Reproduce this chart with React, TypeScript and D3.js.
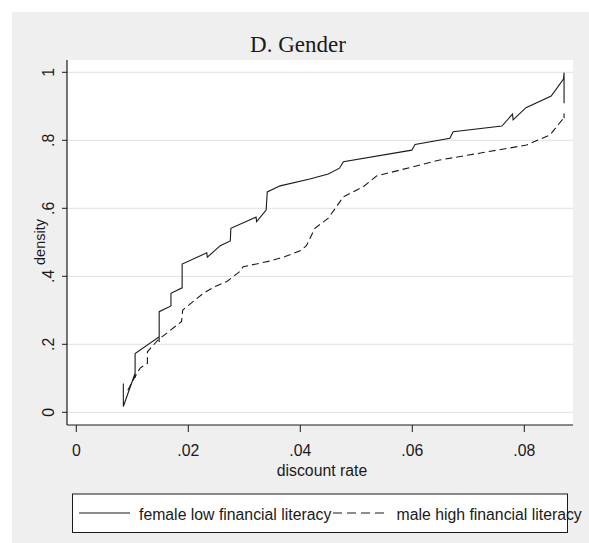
import React from "react";
import * as d3 from "d3";

const femaleX = [0.0084, 0.0084, 0.0105, 0.0105, 0.0105, 0.0148, 0.0148, 0.0148, 0.0169, 0.0169, 0.0189, 0.0189, 0.0233, 0.0234, 0.0257, 0.0275, 0.0276, 0.0321, 0.0322, 0.0339, 0.0341, 0.0364, 0.0417, 0.045, 0.047, 0.0477, 0.0599, 0.0605, 0.0667, 0.0673, 0.076, 0.0779, 0.078, 0.0803, 0.0848, 0.087, 0.0871, 0.0871];
const femaleY = [0.085, 0.017, 0.115, 0.101, 0.173, 0.222, 0.207, 0.296, 0.313, 0.35, 0.366, 0.436, 0.469, 0.456, 0.49, 0.504, 0.541, 0.574, 0.561, 0.595, 0.648, 0.666, 0.686, 0.701, 0.718, 0.737, 0.771, 0.788, 0.806, 0.825, 0.842, 0.877, 0.86, 0.896, 0.93, 0.98, 0.999, 0.909];

const maleX = [0.0092, 0.0105, 0.0114, 0.0127, 0.0127, 0.0146, 0.0188, 0.019, 0.0227, 0.0248, 0.0269, 0.0292, 0.0298, 0.0346, 0.0373, 0.04, 0.0411, 0.0426, 0.045, 0.0477, 0.0513, 0.0536, 0.0649, 0.0804, 0.0846, 0.087, 0.0871, 0.0871];
const maleY = [0.065, 0.105, 0.13, 0.144, 0.178, 0.213, 0.267, 0.301, 0.35, 0.37, 0.385, 0.414, 0.428, 0.445, 0.458, 0.475, 0.49, 0.541, 0.571, 0.634, 0.664, 0.695, 0.742, 0.786, 0.816, 0.865, 0.879, 0.852];

const xTicks = [0, 0.02, 0.04, 0.06, 0.08];
const xTickLabels = ["0", ".02", ".04", ".06", ".08"];
const yTicks = [0, 0.2, 0.4, 0.6, 0.8, 1];
const yTickLabels = ["0", ".2", ".4", ".6", ".8", "1"];
const seriesNames = ["female low financial literacy", "male high financial literacy"];

const W = 589, H = 543;
const plot = { left: 67, right: 573, top: 60, bottom: 425 };
const sans = "'Liberation Sans', Arial, sans-serif";
const fs = 15.8;

export default function App() {
  const x = d3.scaleLinear().domain([0, 0.08]).range([76.3, 524.3]);
  const y = d3.scaleLinear().domain([0, 1]).range([412.3, 72.3]);
  const line = d3.line<[number, number]>().x(d => x(d[0])).y(d => y(d[1]));
  const fem: [number, number][] = femaleX.map((v, i) => [v, femaleY[i]]);
  const mal: [number, number][] = maleX.map((v, i) => [v, maleY[i]]);
  const ink = "#1a1a1a";
  return (
    <svg width={W} height={H} style={{ position: "absolute", left: 0, top: 0, background: "#fff" }}>
      <rect x={12} y={12} width={W - 12} height={H - 12} fill="#efefef" />
      <rect x={plot.left} y={plot.top} width={plot.right - plot.left} height={plot.bottom - plot.top} fill="#fff" />
      {yTicks.map((t, i) => (
        <g key={"y" + i}>
          <line x1={plot.left} x2={plot.right} y1={y(t)} y2={y(t)} stroke="#e6e6e6" strokeWidth={1.2} />
          <line x1={62} x2={plot.left} y1={y(t)} y2={y(t)} stroke={ink} strokeWidth={1} />
          <text transform={`translate(53.5,${y(t)}) rotate(-90)`} textAnchor="middle" fontFamily={sans} fontSize={fs} fill={ink}>{yTickLabels[i]}</text>
        </g>
      ))}
      {xTicks.map((t, i) => (
        <g key={"x" + i}>
          <line x1={x(t)} x2={x(t)} y1={plot.bottom} y2={plot.bottom + 7} stroke={ink} strokeWidth={1} />
          <text x={x(t)} y={455.5} textAnchor="middle" fontFamily={sans} fontSize={fs} fill={ink}>{xTickLabels[i]}</text>
        </g>
      ))}
      <line x1={plot.left} x2={plot.left} y1={plot.top} y2={plot.bottom} stroke={ink} strokeWidth={1.2} />
      <line x1={plot.left} x2={plot.right} y1={plot.bottom} y2={plot.bottom} stroke={ink} strokeWidth={1.2} />
      <path d={line(mal) || ""} fill="none" stroke={ink} strokeWidth={1.1} strokeDasharray="7,4" />
      <path d={line(fem) || ""} fill="none" stroke={ink} strokeWidth={1.1} />
      <text x={298} y={51.5} textAnchor="middle" fontFamily="'Liberation Serif', 'Times New Roman', serif" fontSize={23} fill={ink}>D. Gender</text>
      <text x={322} y={476} textAnchor="middle" fontFamily={sans} fontSize={fs} fill={ink}>discount rate</text>
      <text transform={`translate(45,242) rotate(-90)`} textAnchor="middle" fontFamily={sans} fontSize={14.5} fill={ink}>density</text>
      <rect x={72.5} y={494} width={495} height={38.5} fill="#fff" stroke={ink} strokeWidth={1} />
      <line x1={79} x2={130} y1={513} y2={513} stroke={ink} strokeWidth={1.1} />
      <text x={139} y={520} fontFamily={sans} fontSize={fs} fill={ink}>{seriesNames[0]}</text>
      <line x1={333} x2={387} y1={513} y2={513} stroke={ink} strokeWidth={1.1} strokeDasharray="9,5" />
      <text x={396.5} y={520} fontFamily={sans} fontSize={fs} fill={ink}>{seriesNames[1]}</text>
    </svg>
  );
}
